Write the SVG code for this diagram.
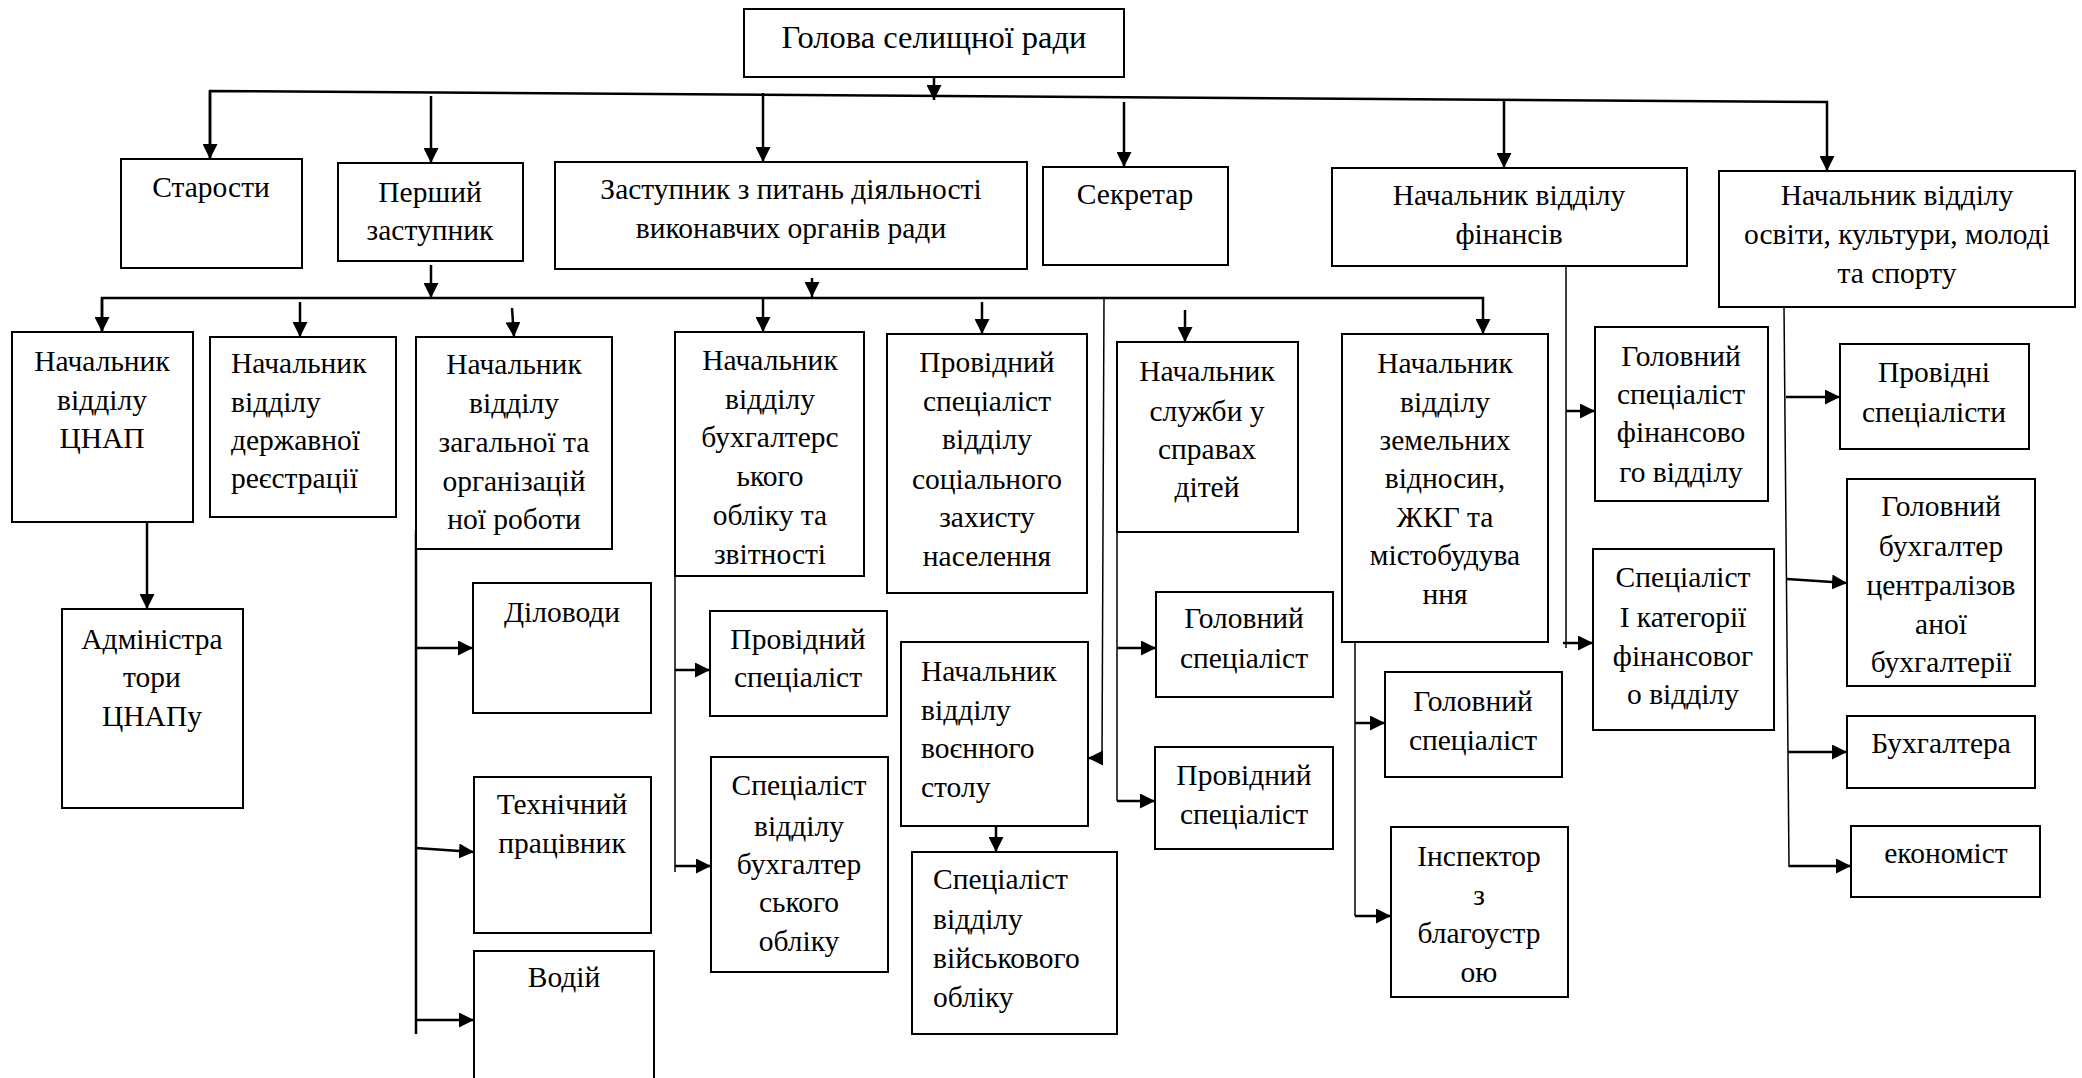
<svg xmlns="http://www.w3.org/2000/svg" width="2082" height="1078" viewBox="0 0 2082 1078">
<style>
.b{fill:#fff;stroke:#000;stroke-width:2}
.t{font-family:"Liberation Serif","Times New Roman",serif;font-size:29.5px;fill:#000;text-anchor:middle}
.l{text-anchor:start}
.c{fill:none;stroke:#000;stroke-width:2.5}
.n{fill:none;stroke:#000;stroke-width:1.5}
</style>
<defs>
<marker id="ah" markerUnits="userSpaceOnUse" markerWidth="15" markerHeight="15" refX="15" refY="7.5" orient="auto">
<path d="M0,0 L15,7.5 L0,15 z" fill="#000"/>
</marker>
</defs>
<rect width="2082" height="1078" fill="#fff"/>
<g id="connectors">
<path class="c" d="M934,77 V100" marker-end="url(#ah)"/>
<path class="c" d="M210,159 V91 L1827,102 V171" marker-end="url(#ah)"/>
<path class="c" d="M210,91 V159" marker-end="url(#ah)"/>
<path class="c" d="M431,96 V163" marker-end="url(#ah)"/>
<path class="c" d="M763,93 V162" marker-end="url(#ah)"/>
<path class="c" d="M1124,102 V167" marker-end="url(#ah)"/>
<path class="c" d="M1504,99 V168" marker-end="url(#ah)"/>
<path class="c" d="M431,265 V298" marker-end="url(#ah)"/>
<path class="c" d="M812,278 V297" marker-end="url(#ah)"/>
<path class="c" d="M102,332 V298 H1483 V334" marker-end="url(#ah)"/>
<path class="c" d="M102,298 V332" marker-end="url(#ah)"/>
<path class="c" d="M300,302 V337" marker-end="url(#ah)"/>
<path class="c" d="M512,308 L514,337" marker-end="url(#ah)"/>
<path class="c" d="M763,298 V332" marker-end="url(#ah)"/>
<path class="c" d="M982,302 V334" marker-end="url(#ah)"/>
<path class="c" d="M1185,310 V342" marker-end="url(#ah)"/>
<path class="n" d="M1104,298 L1102,758"/>
<path class="c" d="M1102,758 H1088" marker-end="url(#ah)"/>
<path class="c" d="M147,522 V609" marker-end="url(#ah)"/>
<path class="c" d="M416,530 V1034"/>
<path class="c" d="M416,648 H473" marker-end="url(#ah)"/>
<path class="c" d="M416,848 L474,852" marker-end="url(#ah)"/>
<path class="c" d="M416,1020 H474" marker-end="url(#ah)"/>
<path class="n" d="M675,576 V872"/>
<path class="c" d="M675,670 H710" marker-end="url(#ah)"/>
<path class="c" d="M675,866 H711" marker-end="url(#ah)"/>
<path class="c" d="M996,826 V852" marker-end="url(#ah)"/>
<path class="n" d="M1117,532 V801"/>
<path class="c" d="M1117,648 H1156" marker-end="url(#ah)"/>
<path class="c" d="M1117,801 H1155" marker-end="url(#ah)"/>
<path class="n" d="M1355,642 V916"/>
<path class="c" d="M1355,723 H1385" marker-end="url(#ah)"/>
<path class="c" d="M1355,916 H1391" marker-end="url(#ah)"/>
<path class="n" d="M1566,266 V648"/>
<path class="c" d="M1566,411 H1595" marker-end="url(#ah)"/>
<path class="c" d="M1563,643 H1593" marker-end="url(#ah)"/>
<path class="n" d="M1784,307 L1789,867"/>
<path class="c" d="M1786,397 H1840" marker-end="url(#ah)"/>
<path class="c" d="M1787,579 L1847,583" marker-end="url(#ah)"/>
<path class="c" d="M1788,752 H1847" marker-end="url(#ah)"/>
<path class="c" d="M1789,866 H1851" marker-end="url(#ah)"/>
</g>
<g id="n-head"><rect class="b" x="744" y="9" width="380" height="68"/><text class="t" x="934" y="48" style="font-size:32.5px">Голова селищної ради</text></g>
<g id="n-starosty"><rect class="b" x="121" y="159" width="181" height="109"/><text class="t" x="211" y="197">Старости</text></g>
<g id="n-pershyi"><rect class="b" x="338" y="163" width="185" height="98"/><text class="t" x="430" y="202">Перший</text><text class="t" x="430" y="240">заступник</text></g>
<g id="n-zastupnyk"><rect class="b" x="555" y="162" width="472" height="107"/><text class="t" x="791" y="199">Заступник з питань діяльності</text><text class="t" x="791" y="238">виконавчих органів ради</text></g>
<g id="n-sekretar"><rect class="b" x="1043" y="167" width="185" height="98"/><text class="t" x="1135" y="204">Секретар</text></g>
<g id="n-finansy"><rect class="b" x="1332" y="168" width="355" height="98"/><text class="t" x="1509" y="205">Начальник відділу</text><text class="t" x="1509" y="244">фінансів</text></g>
<g id="n-osvita"><rect class="b" x="1719" y="171" width="356" height="136"/><text class="t" x="1897" y="205">Начальник відділу</text><text class="t" x="1897" y="244">освіти, культури, молоді</text><text class="t" x="1897" y="283">та спорту</text></g>
<g id="n-cnap"><rect class="b" x="12" y="332" width="181" height="190"/><text class="t" x="102" y="371">Начальник</text><text class="t" x="102" y="410">відділу</text><text class="t" x="102" y="448">ЦНАП</text></g>
<g id="n-admin"><rect class="b" x="62" y="609" width="181" height="199"/><text class="t" x="152" y="649">Адміністра</text><text class="t" x="152" y="687">тори</text><text class="t" x="152" y="726">ЦНАПу</text></g>
<g id="n-reestr"><rect class="b" x="210" y="337" width="186" height="180"/><text class="t l" x="231" y="373">Начальник</text><text class="t l" x="231" y="412">відділу</text><text class="t l" x="231" y="450">державної</text><text class="t l" x="231" y="488">реєстрації</text></g>
<g id="n-zagal"><rect class="b" x="416" y="337" width="196" height="212"/><text class="t" x="514" y="374">Начальник</text><text class="t" x="514" y="413">відділу</text><text class="t" x="514" y="452">загальної та</text><text class="t" x="514" y="491">організацій</text><text class="t" x="514" y="529">ної роботи</text></g>
<g id="n-dilovody"><rect class="b" x="473" y="583" width="178" height="130"/><text class="t" x="562" y="622">Діловоди</text></g>
<g id="n-tekh"><rect class="b" x="474" y="777" width="177" height="156"/><text class="t" x="562" y="814">Технічний</text><text class="t" x="562" y="853">працівник</text></g>
<g id="n-vodii"><rect class="b" x="474" y="951" width="180" height="140"/><text class="t" x="564" y="987">Водій</text></g>
<g id="n-bukh"><rect class="b" x="675" y="332" width="189" height="244"/><text class="t" x="770" y="370">Начальник</text><text class="t" x="770" y="409">відділу</text><text class="t" x="770" y="447">бухгалтерс</text><text class="t" x="770" y="486">ького</text><text class="t" x="770" y="525">обліку та</text><text class="t" x="770" y="564">звітності</text></g>
<g id="n-bukh-prov"><rect class="b" x="710" y="611" width="177" height="105"/><text class="t" x="798" y="649">Провідний</text><text class="t" x="798" y="687">спеціаліст</text></g>
<g id="n-bukh-spec"><rect class="b" x="711" y="757" width="177" height="215"/><text class="t" x="799" y="795">Спеціаліст</text><text class="t" x="799" y="836">відділу</text><text class="t" x="799" y="874">бухгалтер</text><text class="t" x="799" y="912">ського</text><text class="t" x="799" y="951">обліку</text></g>
<g id="n-social"><rect class="b" x="887" y="334" width="200" height="259"/><text class="t" x="987" y="372">Провідний</text><text class="t" x="987" y="411">спеціаліст</text><text class="t" x="987" y="449">відділу</text><text class="t" x="987" y="489">соціального</text><text class="t" x="987" y="527">захисту</text><text class="t" x="987" y="566">населення</text></g>
<g id="n-voen"><rect class="b" x="901" y="642" width="187" height="184"/><text class="t l" x="921" y="681">Начальник</text><text class="t l" x="921" y="720">відділу</text><text class="t l" x="921" y="758">воєнного</text><text class="t l" x="921" y="797">столу</text></g>
<g id="n-viisk"><rect class="b" x="912" y="852" width="205" height="182"/><text class="t l" x="933" y="889">Спеціаліст</text><text class="t l" x="933" y="929">відділу</text><text class="t l" x="933" y="968">військового</text><text class="t l" x="933" y="1007">обліку</text></g>
<g id="n-dity"><rect class="b" x="1117" y="342" width="181" height="190"/><text class="t" x="1207" y="381">Начальник</text><text class="t" x="1207" y="421">служби у</text><text class="t" x="1207" y="459">справах</text><text class="t" x="1207" y="497">дітей</text></g>
<g id="n-dity-gol"><rect class="b" x="1156" y="592" width="177" height="105"/><text class="t" x="1244" y="628">Головний</text><text class="t" x="1244" y="668">спеціаліст</text></g>
<g id="n-dity-prov"><rect class="b" x="1155" y="747" width="178" height="102"/><text class="t" x="1244" y="785">Провідний</text><text class="t" x="1244" y="824">спеціаліст</text></g>
<g id="n-zemel"><rect class="b" x="1342" y="334" width="206" height="308"/><text class="t" x="1445" y="373">Начальник</text><text class="t" x="1445" y="412">відділу</text><text class="t" x="1445" y="450">земельних</text><text class="t" x="1445" y="488">відносин,</text><text class="t" x="1445" y="527">ЖКГ та</text><text class="t" x="1445" y="565">містобудува</text><text class="t" x="1445" y="604">ння</text></g>
<g id="n-zemel-gol"><rect class="b" x="1385" y="672" width="177" height="105"/><text class="t" x="1473" y="711">Головний</text><text class="t" x="1473" y="750">спеціаліст</text></g>
<g id="n-inspektor"><rect class="b" x="1391" y="827" width="177" height="170"/><text class="t" x="1479" y="866">Інспектор</text><text class="t" x="1479" y="905">з</text><text class="t" x="1479" y="943">благоустр</text><text class="t" x="1479" y="982">ою</text></g>
<g id="n-fin-gol"><rect class="b" x="1595" y="327" width="173" height="174"/><text class="t" x="1681" y="366">Головний</text><text class="t" x="1681" y="404">спеціаліст</text><text class="t" x="1681" y="442">фінансово</text><text class="t" x="1681" y="482">го відділу</text></g>
<g id="n-fin-spec"><rect class="b" x="1593" y="549" width="181" height="181"/><text class="t" x="1683" y="587">Спеціаліст</text><text class="t" x="1683" y="627">І категорії</text><text class="t" x="1683" y="666">фінансовог</text><text class="t" x="1683" y="704">о відділу</text></g>
<g id="n-osv-prov"><rect class="b" x="1840" y="344" width="189" height="105"/><text class="t" x="1934" y="382">Провідні</text><text class="t" x="1934" y="422">спеціалісти</text></g>
<g id="n-osv-golbukh"><rect class="b" x="1847" y="479" width="188" height="207"/><text class="t" x="1941" y="516">Головний</text><text class="t" x="1941" y="556">бухгалтер</text><text class="t" x="1941" y="595">централізов</text><text class="t" x="1941" y="634">аної</text><text class="t" x="1941" y="672">бухгалтерії</text></g>
<g id="n-osv-bukh"><rect class="b" x="1847" y="716" width="188" height="72"/><text class="t" x="1941" y="753">Бухгалтера</text></g>
<g id="n-osv-ekon"><rect class="b" x="1851" y="826" width="189" height="71"/><text class="t" x="1946" y="863">економіст</text></g>
</svg>
